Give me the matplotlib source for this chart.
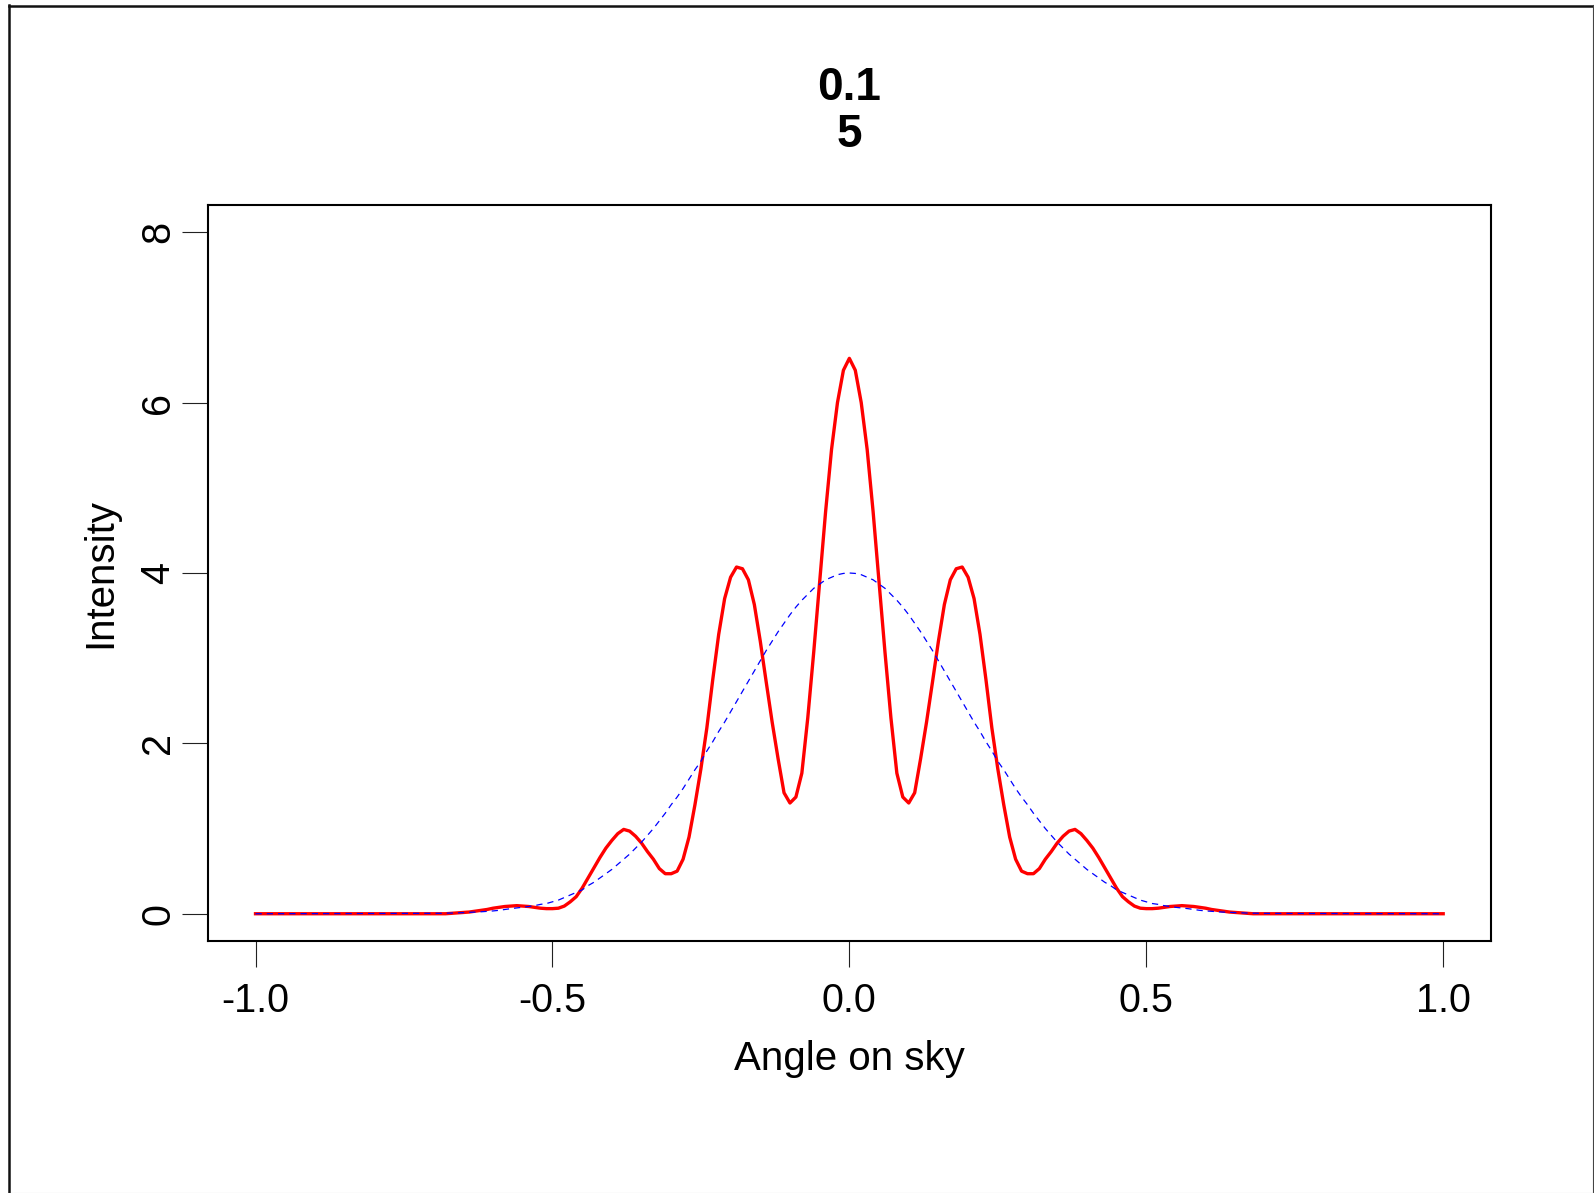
import numpy as np
import matplotlib
matplotlib.use("Agg")
import matplotlib.pyplot as plt
from matplotlib.lines import Line2D

# ---------------- data ----------------
title_line1 = "0.1"
title_line2 = "5"
x_label = "Angle on sky"
y_label = "Intensity"

xticks = [-1.0, -0.5, 0.0, 0.5, 1.0]
xtick_labels = ["-1.0", "-0.5", "0.0", "0.5", "1.0"]
yticks = [0, 2, 4, 6, 8]
ytick_labels = ["0", "2", "4", "6", "8"]

# angle grid: -1.0, then -0.70 ... 0.70 in steps of 0.01, then 1.0
angle = np.concatenate([[-1.0], np.arange(-70, 71) / 100.0, [1.0]])

# red (observed pattern) intensities
red_intensity = [
    0.0,
    0.0, 0.0, 0.0, 0.005, 0.01, 0.015, 0.02, 0.03, 0.04, 0.05,
    0.065, 0.075, 0.085, 0.09, 0.095, 0.09, 0.085, 0.075, 0.065, 0.06,
    0.06, 0.065, 0.09, 0.14, 0.20, 0.30, 0.42, 0.54, 0.66, 0.77,
    0.86, 0.94, 0.99, 0.97, 0.91, 0.83, 0.73, 0.64, 0.53, 0.47,
    0.47, 0.50, 0.64, 0.90, 1.28, 1.70, 2.18, 2.75, 3.28, 3.70,
    3.95, 4.07, 4.05, 3.92, 3.63, 3.20, 2.72, 2.25, 1.82, 1.42,
    1.30, 1.37, 1.65, 2.30, 3.07, 3.90, 4.72, 5.45, 6.00, 6.38,
    6.52,
    6.38, 6.00, 5.45, 4.72, 3.90, 3.07, 2.30, 1.65, 1.37, 1.30,
    1.42, 1.82, 2.25, 2.72, 3.20, 3.63, 3.92, 4.05, 4.07, 3.95,
    3.70, 3.28, 2.75, 2.18, 1.70, 1.28, 0.90, 0.64, 0.50, 0.47,
    0.47, 0.53, 0.64, 0.73, 0.83, 0.91, 0.97, 0.99, 0.94, 0.86,
    0.77, 0.66, 0.54, 0.42, 0.30, 0.20, 0.14, 0.09, 0.065, 0.06,
    0.06, 0.065, 0.075, 0.085, 0.09, 0.095, 0.09, 0.085, 0.075, 0.065,
    0.05, 0.04, 0.03, 0.02, 0.015, 0.01, 0.005, 0.0, 0.0, 0.0,
    0.0,
]

# blue (dashed envelope) intensities
blue_intensity = [
    0.0,
    0.004, 0.005, 0.006, 0.008, 0.01, 0.013, 0.016, 0.019, 0.023, 0.028,
    0.033, 0.04, 0.05, 0.06, 0.068, 0.075, 0.085, 0.095, 0.11, 0.12,
    0.14, 0.16, 0.19, 0.22, 0.25, 0.28, 0.33, 0.37, 0.42, 0.47,
    0.52, 0.58, 0.64, 0.70, 0.77, 0.84, 0.92, 1.00, 1.09, 1.18,
    1.28, 1.37, 1.47, 1.58, 1.69, 1.79, 1.91, 2.02, 2.14, 2.25,
    2.37, 2.49, 2.61, 2.73, 2.85, 2.97, 3.09, 3.20, 3.31, 3.41,
    3.51, 3.60, 3.68, 3.75, 3.82, 3.87, 3.92, 3.95, 3.98, 3.995,
    4.00,
    3.995, 3.98, 3.95, 3.92, 3.87, 3.82, 3.75, 3.68, 3.60, 3.51,
    3.41, 3.31, 3.20, 3.09, 2.97, 2.85, 2.73, 2.61, 2.49, 2.37,
    2.25, 2.14, 2.02, 1.91, 1.79, 1.69, 1.58, 1.47, 1.37, 1.28,
    1.18, 1.09, 1.00, 0.92, 0.84, 0.77, 0.70, 0.64, 0.58, 0.52,
    0.47, 0.42, 0.37, 0.33, 0.28, 0.25, 0.22, 0.19, 0.16, 0.14,
    0.12, 0.11, 0.095, 0.085, 0.075, 0.068, 0.06, 0.05, 0.04, 0.033,
    0.028, 0.023, 0.019, 0.016, 0.013, 0.01, 0.008, 0.006, 0.005, 0.004,
    0.0,
]

# ---------------- figure ----------------
plt.rcParams['font.family'] = ['Liberation Sans', 'DejaVu Sans']

W, H = 1594, 1193
fig = plt.figure(figsize=(W / 100, H / 100), dpi=100)
fig.patch.set_facecolor("white")

ax_l, ax_r, ax_t, ax_b = 208, 1490.7, 205, 941
ax = fig.add_axes([ax_l / W, 1 - ax_b / H, (ax_r - ax_l) / W, (ax_b - ax_t) / H])

ax.plot(angle, red_intensity, color="#FF0000", lw=2.4,
        solid_joinstyle="round", zorder=2)
ax.plot(angle, blue_intensity, color="#0000FF", lw=0.9,
        dashes=(5, 4), zorder=3)

ax.set_xlim(-1.08, 1.08)
ax.set_ylim(-0.32, 8.32)

ax.set_xticks(xticks)
ax.set_xticklabels(xtick_labels)
ax.set_yticks(yticks)
ax.set_yticklabels(ytick_labels, rotation=90, va="center")

ax.tick_params(axis="both", direction="out", length=18.7, width=0.8,
               color="#222222", labelsize=28.5, labelcolor="black")
ax.tick_params(axis="x", pad=10.5)
ax.tick_params(axis="y", pad=3.6)

for s in ax.spines.values():
    s.set_linewidth(1.5)
    s.set_color("black")

ax.set_xlabel(x_label, fontsize=29)
ax.xaxis.set_label_coords(0.5, (ax_b - 1070) / (ax_b - ax_t))
ax.xaxis.label.set_va("baseline")

ax.set_ylabel(y_label, fontsize=29)
ax.yaxis.set_label_coords((111.7 - ax_l) / (ax_r - ax_l), 0.5)
ax.yaxis.label.set_va("baseline")

# title (two bold lines)
cx = (ax_l + ax_r) / 2 / W
fig.text(cx, 1 - 100 / H, title_line1, ha="center", va="baseline",
         fontsize=33, fontweight="bold")
fig.text(cx, 1 - 147 / H, title_line2, ha="center", va="baseline",
         fontsize=33, fontweight="bold")

# outer image border
fig.add_artist(Line2D([8.5 / W, 8.5 / W], [0, 1 - 5 / H],
                      transform=fig.transFigure, color="#111111", lw=1.8))
fig.add_artist(Line2D([8.5 / W, 1], [1 - 5.5 / H, 1 - 5.5 / H],
                      transform=fig.transFigure, color="#111111", lw=1.8))
fig.add_artist(Line2D([1592.5 / W, 1592.5 / W], [0, 1 - 5 / H],
                      transform=fig.transFigure, color="#444444", lw=0.8))
fig.add_artist(Line2D([8.5 / W, 1], [0.5 / H, 0.5 / H],
                      transform=fig.transFigure, color="#bbbbbb", lw=0.8))

fig.savefig("out.png", dpi=100, facecolor="white")
